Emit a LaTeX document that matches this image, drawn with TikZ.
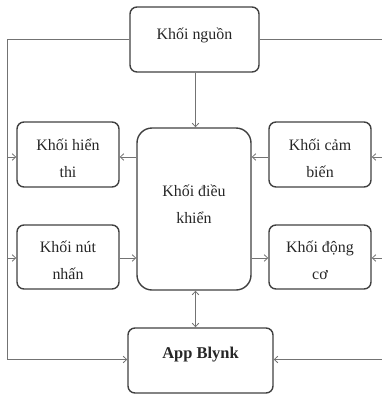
\documentclass[tikz,border=0pt]{standalone}
\usepackage{fontspec}
\setmainfont{Liberation Serif}
\usetikzlibrary{arrows.meta}
\begin{document}
\begin{tikzpicture}[x=1bp,y=-1bp,
  box/.style={draw=black!75, line width=1.4bp, rounded corners=7bp, inner sep=0pt},
  txt/.style={font=\fontsize{16}{27}\selectfont, align=center, inner sep=0pt, text=black!85},
  conn/.style={draw=black!55, line width=0.8bp},
  tip/.tip={Straight Barb[length=3.5bp,width=6.5bp]},
  arr/.style={conn, -tip},
]
\useasboundingbox (0,0) rectangle (382,395);
% boxes
\node[box, minimum width=129bp, minimum height=65bp] (nguon) at (194.5,39.5) {};
\node[box, minimum width=102bp, minimum height=65bp] (hienthi) at (68,154.5) {};
\node[box, minimum width=102bp, minimum height=65bp] (cambien) at (320,154.5) {};
\node[box, minimum width=102bp, minimum height=64bp] (nutnhan) at (68,257) {};
\node[box, minimum width=102bp, minimum height=64bp] (dongco) at (320,257) {};
\node[box, rounded corners=15bp, minimum width=114bp, minimum height=162bp] (dieukhien) at (194,209) {};
\node[box, minimum width=145bp, minimum height=65bp] (blynk) at (200.5,360.5) {};
% texts
\node[txt] (tnguon) at (194.5,35) {Khối nguồn};
\node[txt] (thienthi) at (68,158) {Khối hiển\\thi};
\node[txt] (tcambien) at (320,158) {Khối cảm\\biến};
\node[txt] (tnutnhan) at (68,260) {Khối nút\\nhấn};
\node[txt] (tdongco) at (320,260) {Khối động\\cơ};
\node[txt] (tdieukhien) at (194,204) {Khối điều\\khiển};
\node[txt, font=\fontsize{16.5}{27}\selectfont\bfseries] (tblynk) at (200.5,355) {App Blynk};
% helper coordinates
\coordinate (L) at (7,40);
\coordinate (R) at (383,40);
\coordinate (r1) at (0,157);
\coordinate (r2) at (0,258);
\coordinate (yb) at (0,359.5);
\coordinate (X) at (195.5,0);
% connectors
\draw[arr] (nguon.south -| X) -- (dieukhien.north -| X);
\draw[conn, tip-tip] (dieukhien.south -| X) -- (blynk.north -| X);
\draw[arr] (dieukhien.west |- r1) -- (hienthi.east |- r1);
\draw[arr] (cambien.west |- r1) -- (dieukhien.east |- r1);
\draw[arr] (nutnhan.east |- r2) -- (dieukhien.west |- r2);
\draw[arr] (dieukhien.east |- r2) -- (dongco.west |- r2);
% left bus
\draw[arr] (nguon.west) -- (nguon.west -| L) -- (L |- yb) -- (blynk.west |- yb);
\draw[arr] (L |- r1) -- (hienthi.west |- r1);
\draw[arr] (L |- r2) -- (nutnhan.west |- r2);
% right bus
\draw[arr] (nguon.east) -- (nguon.east -| R) -- (R |- yb) -- (blynk.east |- yb);
\draw[arr] (R |- r1) -- (cambien.east |- r1);
\draw[arr] (R |- r2) -- (dongco.east |- r2);
\end{tikzpicture}
\end{document}
